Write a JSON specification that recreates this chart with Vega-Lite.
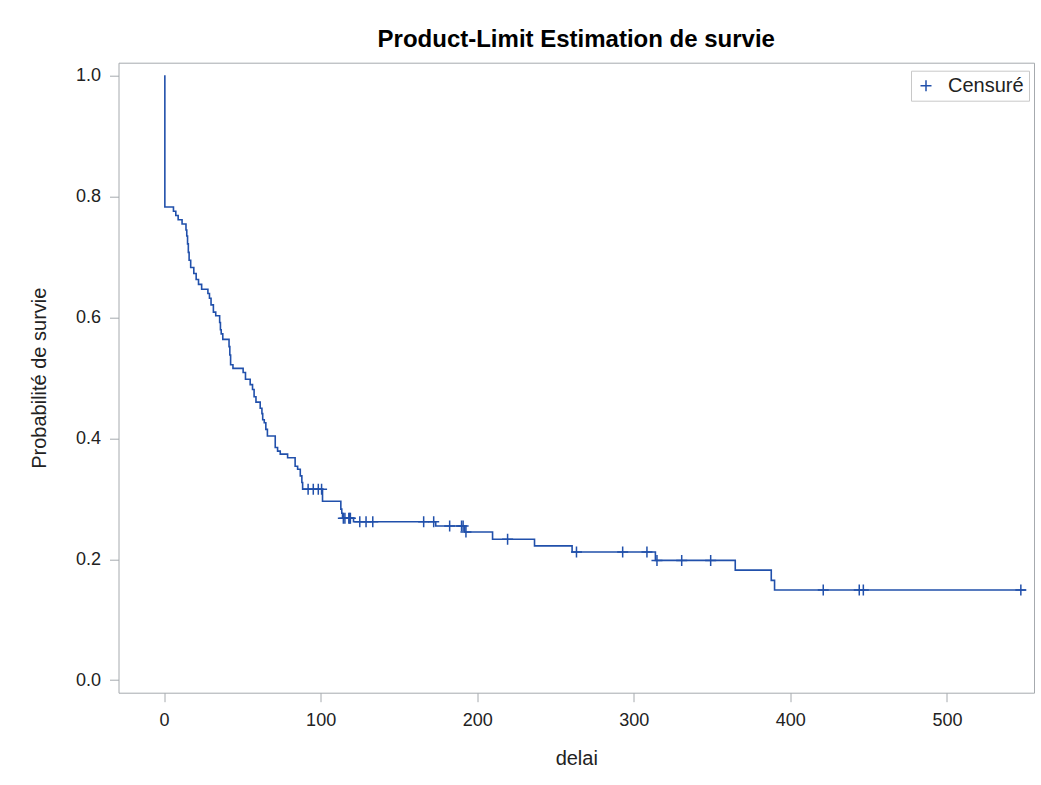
{
  "$schema": "https://vega.github.io/schema/vega-lite/v6.json",
  "width": 915.5,
  "height": 630,
  "autosize": {"type": "none"},
  "padding": {"left": 118.5, "top": 62.7, "right": 7, "bottom": 92.3},
  "background": "white",
  "title": {"text": "Product-Limit Estimation de survie", "font": "Liberation Sans", "fontSize": 24, "fontWeight": "bold", "color": "#000000", "anchor": "middle", "frame": "group", "baseline": "alphabetic", "offset": -8},
  "config": {
    "view": {"stroke": "#a6aaae", "strokeWidth": 1},
    "axis": {"domain": false, "grid": false, "tickColor": "#a6aaae", "tickSize": 9, "labelFont": "Liberation Sans", "labelFontSize": 18, "labelColor": "#222222", "titleFont": "Liberation Sans", "titleFontSize": 20, "titleFontWeight": "normal", "titleColor": "#222222"}
  },
  "datasets": {
    "curve": [
      {"delai": 0, "survie": 1.0},
      {"delai": 0.5, "survie": 0.783},
      {"delai": 6, "survie": 0.776},
      {"delai": 7.5, "survie": 0.769},
      {"delai": 9, "survie": 0.762},
      {"delai": 11.5, "survie": 0.755},
      {"delai": 14, "survie": 0.745},
      {"delai": 14.5, "survie": 0.735},
      {"delai": 15, "survie": 0.722},
      {"delai": 15.5, "survie": 0.708},
      {"delai": 16, "survie": 0.695},
      {"delai": 17, "survie": 0.683},
      {"delai": 19, "survie": 0.673},
      {"delai": 20.5, "survie": 0.663},
      {"delai": 22, "survie": 0.655},
      {"delai": 24, "survie": 0.647},
      {"delai": 28, "survie": 0.640},
      {"delai": 29, "survie": 0.632},
      {"delai": 30, "survie": 0.621},
      {"delai": 31.5, "survie": 0.609},
      {"delai": 33, "survie": 0.603},
      {"delai": 35.5, "survie": 0.592},
      {"delai": 36, "survie": 0.580},
      {"delai": 36.5, "survie": 0.573},
      {"delai": 37.5, "survie": 0.564},
      {"delai": 41.5, "survie": 0.552},
      {"delai": 42, "survie": 0.538},
      {"delai": 42.5, "survie": 0.522},
      {"delai": 44, "survie": 0.516},
      {"delai": 50.5, "survie": 0.509},
      {"delai": 52, "survie": 0.498},
      {"delai": 55, "survie": 0.489},
      {"delai": 56.5, "survie": 0.481},
      {"delai": 57.5, "survie": 0.469},
      {"delai": 58.7, "survie": 0.460},
      {"delai": 61.4, "survie": 0.450},
      {"delai": 62.5, "survie": 0.441},
      {"delai": 63, "survie": 0.431},
      {"delai": 64, "survie": 0.426},
      {"delai": 65, "survie": 0.415},
      {"delai": 66, "survie": 0.404},
      {"delai": 71, "survie": 0.385},
      {"delai": 72.5, "survie": 0.379},
      {"delai": 74.2, "survie": 0.374},
      {"delai": 78.9, "survie": 0.368},
      {"delai": 83.7, "survie": 0.354},
      {"delai": 85.3, "survie": 0.349},
      {"delai": 87, "survie": 0.338},
      {"delai": 88, "survie": 0.327},
      {"delai": 88.5, "survie": 0.316},
      {"delai": 101.2, "survie": 0.296},
      {"delai": 112.9, "survie": 0.283},
      {"delai": 113.5, "survie": 0.276},
      {"delai": 114, "survie": 0.268},
      {"delai": 121, "survie": 0.262},
      {"delai": 173.5, "survie": 0.255},
      {"delai": 192, "survie": 0.245},
      {"delai": 209.8, "survie": 0.233},
      {"delai": 236.6, "survie": 0.222},
      {"delai": 260.6, "survie": 0.212},
      {"delai": 313.8, "survie": 0.198},
      {"delai": 364.8, "survie": 0.182},
      {"delai": 387.8, "survie": 0.165},
      {"delai": 389.9, "survie": 0.149},
      {"delai": 550.4, "survie": 0.149}
    ],
    "censor": [
      {"delai": 92, "survie": 0.316, "type": "Censuré"},
      {"delai": 95.3, "survie": 0.316, "type": "Censuré"},
      {"delai": 98.5, "survie": 0.316, "type": "Censuré"},
      {"delai": 100.6, "survie": 0.316, "type": "Censuré"},
      {"delai": 114.5, "survie": 0.268, "type": "Censuré"},
      {"delai": 115.5, "survie": 0.268, "type": "Censuré"},
      {"delai": 118, "survie": 0.268, "type": "Censuré"},
      {"delai": 118.5, "survie": 0.268, "type": "Censuré"},
      {"delai": 119, "survie": 0.268, "type": "Censuré"},
      {"delai": 125, "survie": 0.262, "type": "Censuré"},
      {"delai": 129, "survie": 0.262, "type": "Censuré"},
      {"delai": 133.3, "survie": 0.262, "type": "Censuré"},
      {"delai": 165.8, "survie": 0.262, "type": "Censuré"},
      {"delai": 172.2, "survie": 0.262, "type": "Censuré"},
      {"delai": 182.4, "survie": 0.255, "type": "Censuré"},
      {"delai": 190, "survie": 0.255, "type": "Censuré"},
      {"delai": 191, "survie": 0.255, "type": "Censuré"},
      {"delai": 192.8, "survie": 0.245, "type": "Censuré"},
      {"delai": 219.4, "survie": 0.233, "type": "Censuré"},
      {"delai": 263.4, "survie": 0.212, "type": "Censuré"},
      {"delai": 292.9, "survie": 0.212, "type": "Censuré"},
      {"delai": 308.4, "survie": 0.212, "type": "Censuré"},
      {"delai": 314.8, "survie": 0.198, "type": "Censuré"},
      {"delai": 330.6, "survie": 0.198, "type": "Censuré"},
      {"delai": 349.1, "survie": 0.198, "type": "Censuré"},
      {"delai": 421, "survie": 0.149, "type": "Censuré"},
      {"delai": 444, "survie": 0.149, "type": "Censuré"},
      {"delai": 446.6, "survie": 0.149, "type": "Censuré"},
      {"delai": 547.2, "survie": 0.149, "type": "Censuré"}
    ]
  },
  "encoding": {
    "x": {"field": "delai", "type": "quantitative", "scale": {"domain": [-29.1, 555.6], "nice": false, "zero": false}, "axis": {"values": [0, 100, 200, 300, 400, 500], "labelPadding": 10, "titlePadding": 19, "title": "delai"}},
    "y": {"field": "survie", "type": "quantitative", "scale": {"domain": [-0.021, 1.022], "nice": false, "zero": false}, "axis": {"values": [0, 0.2, 0.4, 0.6, 0.8, 1.0], "format": ".1f", "labelPadding": 9, "titlePadding": 26, "title": "Probabilité de survie"}}
  },
  "layer": [
    {
      "data": {"name": "curve"},
      "mark": {"type": "line", "interpolate": "step-after", "color": "#2150ab", "strokeWidth": 1.6}
    },
    {
      "data": {"name": "censor"},
      "mark": {"type": "point", "filled": false, "strokeWidth": 1.5, "size": 121, "opacity": 1},
      "encoding": {
        "shape": {"field": "type", "type": "nominal", "scale": {"range": ["M-1,0L1,0M0,-1L0,1"]}, "legend": {"title": null, "orient": "none", "legendX": 792.5, "legendY": 8, "strokeColor": "#c8c8c8", "padding": 5, "labelFont": "Liberation Sans", "labelFontSize": 20, "labelColor": "#222222", "symbolSize": 121, "symbolStrokeWidth": 1.5, "labelOffset": 12}},
        "color": {"field": "type", "type": "nominal", "scale": {"range": ["#2150ab"]}, "legend": {"title": null, "orient": "none", "legendX": 792.5, "legendY": 8, "strokeColor": "#c8c8c8", "padding": 5, "labelFont": "Liberation Sans", "labelFontSize": 20, "labelColor": "#222222", "symbolSize": 121, "symbolStrokeWidth": 1.5, "labelOffset": 12}}
      }
    }
  ]
}
